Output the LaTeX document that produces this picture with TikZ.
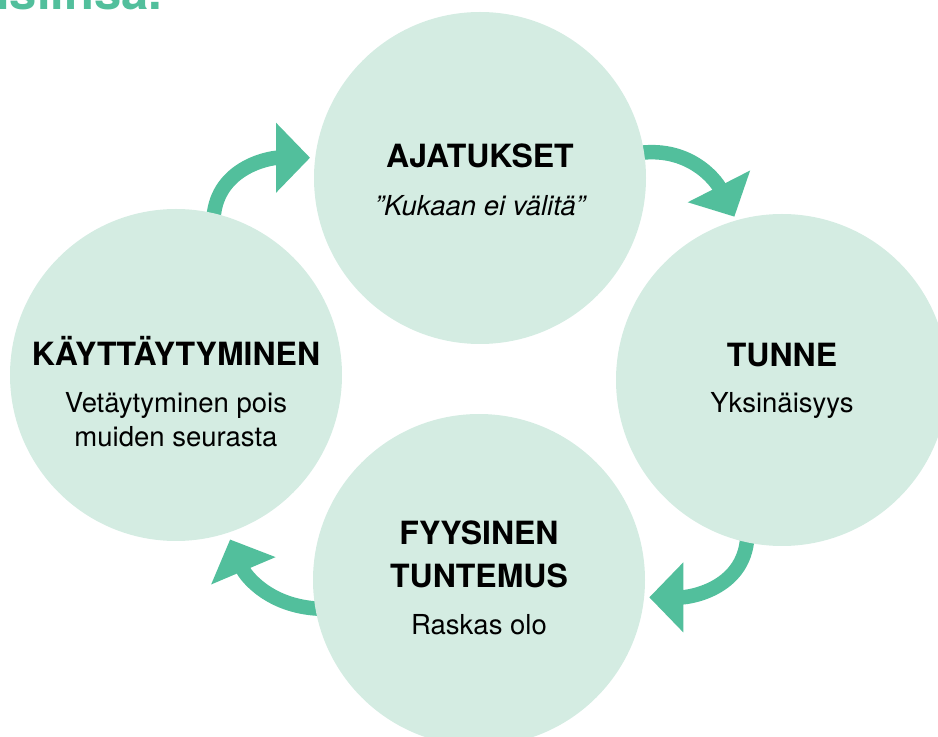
\documentclass[tikz,border=0pt]{standalone}
\usepackage{fontspec}
\setmainfont{TeX Gyre Heros}
\usetikzlibrary{arrows.meta,backgrounds}
\definecolor{mint}{HTML}{D4ECE2}
\definecolor{seagreen}{HTML}{52BF9C}
\begin{document}
\begin{tikzpicture}[x=1pt,y=1pt]
		\tikzstyle{phase}=[circle, fill=mint, minimum size=332pt, inner sep=0pt]
		\tikzstyle{phasetitle}=[anchor=base, align=center, inner sep=0pt, font=\fontsize{32}{43}\selectfont\bfseries]
		\tikzstyle{phasetext}=[anchor=base, align=center, inner sep=0pt, font=\fontsize{27.5}{34}\selectfont]
		\tikzstyle{looparrow}=[-{Triangle[length=34pt,width=68pt]}, line width=14.5pt, color=seagreen, shorten <=-10pt]
		
		\useasboundingbox (0,0) rectangle (938,737);
		\clip (0,0) rectangle (938,737);
		
		\node[anchor=base west, inner sep=0pt, text=seagreen, font=\fontsize{49}{49}\selectfont\bfseries] (heading) at (-4,727) {isiinsa.};
		
		\node[phase] (thoughts) at (480,559) {};
		\node[phase] (feeling) at (782,357) {};
		\node[phase] (body) at (479,157) {};
		\node[phase] (behaviour) at (176,362) {};
		
		% base of a two-line node is the baseline of its last line
		\node[phasetitle] (thoughtsT) at ([yshift=10pt]thoughts.center) {AJATUKSET};
		\node[phasetext, font=\fontsize{27.5}{34}\selectfont\itshape] (thoughtsS) at ([yshift=-38pt]thoughts.center) {”Kukaan ei välitä”};
		
		\node[phasetitle] (feelingT) at ([yshift=13pt]feeling.center) {TUNNE};
		\node[phasetext] (feelingS) at ([yshift=-33pt]feeling.center) {Yksinäisyys};
		
		\node[phasetitle] (bodyT) at ([yshift=-8pt]body.center) {FYYSINEN\\TUNTEMUS};
		\node[phasetext] (bodyS) at ([yshift=-55pt]body.center) {Raskas olo};
		
		\node[phasetitle] (behaviourT) at ([yshift=9pt]behaviour.center) {KÄYTTÄYTYMINEN};
		\node[phasetext] (behaviourS) at ([yshift=-72pt]behaviour.center) {Vetäytyminen pois\\muiden seurasta};
		
		\begin{scope}[on background layer]
		\draw[looparrow, shorten >=5pt] (behaviour.77) to[out=90, in=180] (thoughts.173);
		\draw[looparrow, shorten >=4pt] (thoughts.9) to[out=10, in=117] (feeling.106);
		\draw[looparrow, shorten >=5pt] (feeling.258) to[out=-90, in=0] (body.354);
		\draw[looparrow, shorten >=7pt] (body.190) to[out=180, in=-67] (behaviour.288);
		\end{scope}
		
	\end{tikzpicture}
\end{document}
